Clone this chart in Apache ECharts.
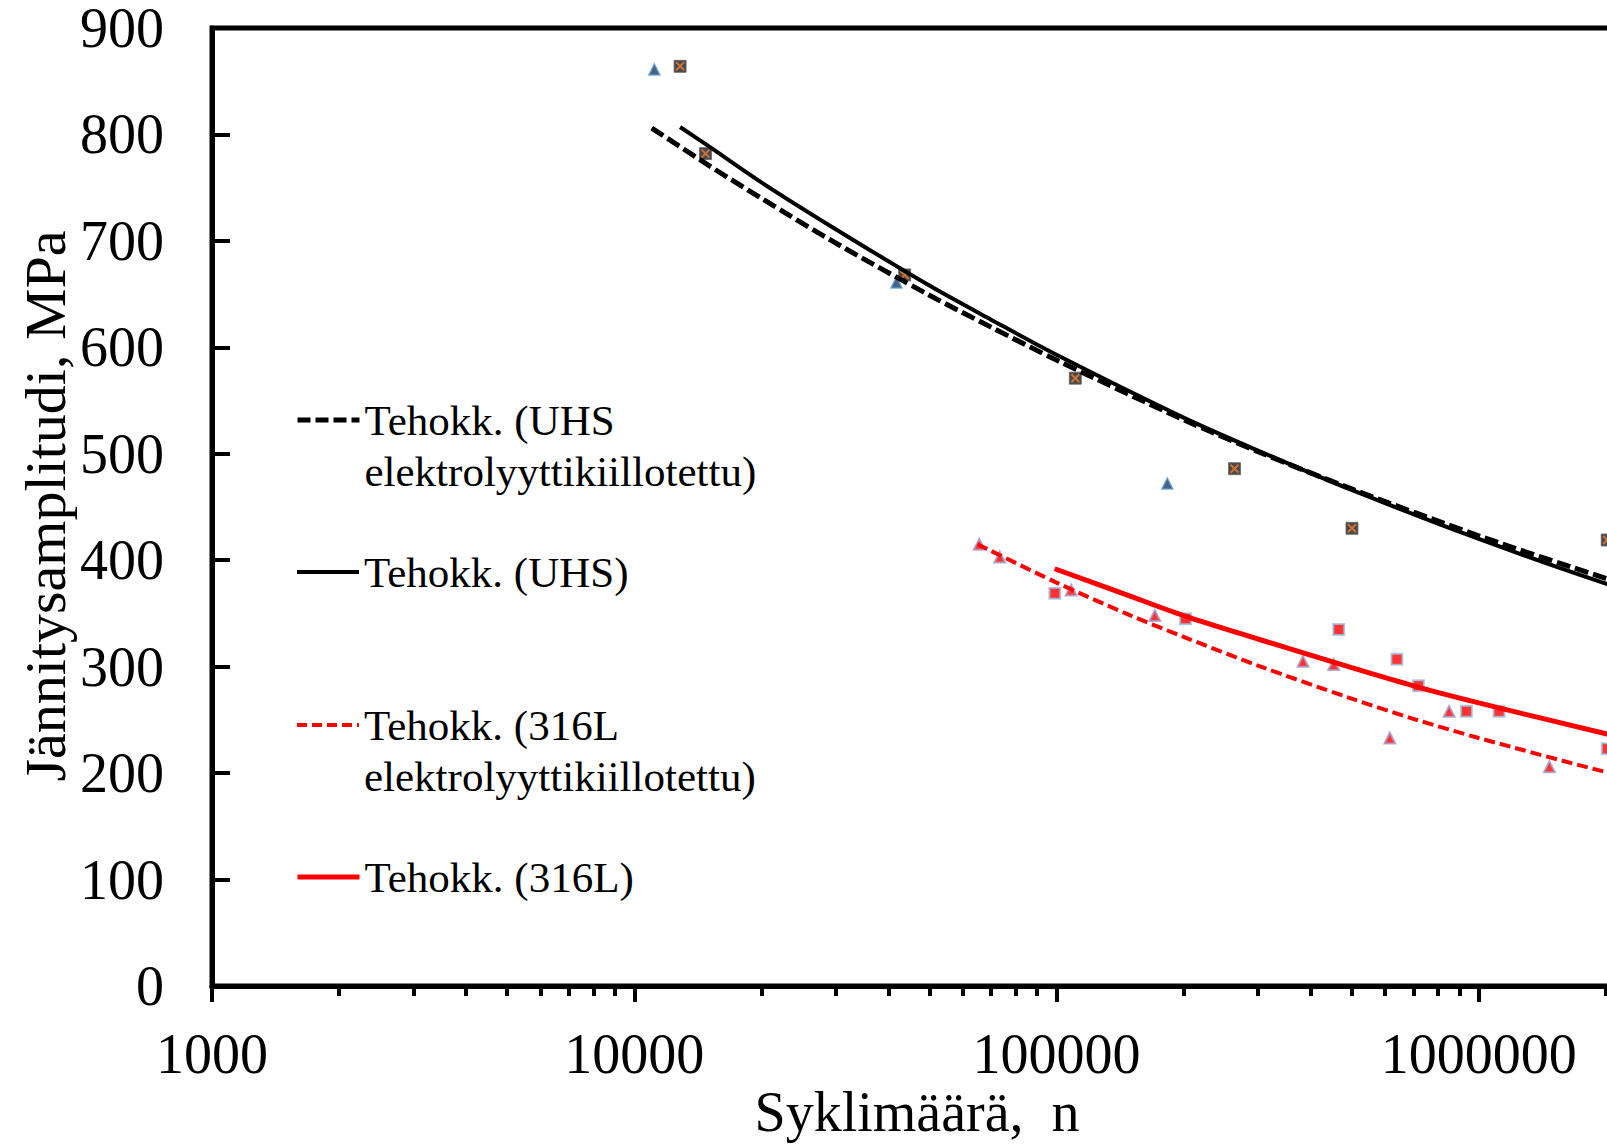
<!DOCTYPE html>
<html>
<head>
<meta charset="utf-8">
<script src="https://cdn.jsdelivr.net/npm/echarts@6/dist/echarts.min.js"></script>
<style>
html,body{margin:0;padding:0;background:#fff;}
#chart{width:1607px;height:1146px;}
</style>
</head>
<body>
<div id="chart"></div>
<script>
// ---------- data ----------
const yTicks = [0, 100, 200, 300, 400, 500, 600, 700, 800, 900];
const xMajorTicks = [1000, 10000, 100000, 1000000, 10000000];
const xTickLabels = ['1000', '10000', '100000', '1000000'];
const xMinorTicks = [2000,3000,4000,5000,6000,7000,8000,9000,
  20000,30000,40000,50000,60000,70000,80000,90000,
  200000,300000,400000,500000,600000,700000,800000,900000,
  2000000,3000000,4000000,5000000,6000000,7000000,8000000,9000000];

// measured points
const uhsEpCycles = [11160, 41780, 183000];
const uhsEpStress = [861, 661, 472];
const uhsCycles = [12840, 14750, 43690, 110800, 264000, 500900, 2015000];
const uhsStress = [864, 782, 668, 571, 486, 430, 419];
const l316EpCycles = [65610, 73380, 108300, 171000, 383500, 453300, 615800, 850600, 1470000];
const l316EpStress = [415, 403, 372, 348, 305, 302, 233, 258, 206];
const l316Cycles = [99100, 202100, 466000, 640000, 719700, 935000, 1117000, 2015000];
const l316Stress = [369, 345, 335, 307, 282, 258, 258, 223];

// trendlines, values
const uhsEpTrendCycles = [11000, 15000, 20000, 30000, 50000, 70000, 100000, 200000, 300000, 500000, 1000000, 2000000, 3000000];
const uhsEpTrendStress = [806, 771, 740, 698, 649, 619, 588, 532, 502, 467, 423, 383, 362];
const uhsTrendCycles = [12840, 15000, 20000, 30000, 50000, 70000, 100000, 200000, 300000, 500000, 1000000, 2000000, 3000000];
const uhsTrendStress = [807, 789, 755, 711, 658, 626, 593, 534, 503, 466, 420, 378, 356];
const l316EpTrendCycles = [65000, 100000, 150000, 200000, 300000, 500000, 700000, 1000000, 2000000, 3000000];
const l316EpTrendStress = [415, 379, 348, 328, 301, 270, 251, 233, 201, 185];
const l316TrendCycles = [99000, 150000, 200000, 300000, 500000, 700000, 1000000, 2000000, 3000000];
const l316TrendStress = [392, 366, 348, 326, 299, 282, 266, 237, 221];

const legendNames = [
  'Tehokk. (UHS\nelektrolyyttikiillotettu)',
  'Tehokk. (UHS)',
  'Tehokk. (316L\nelektrolyyttikiillotettu)',
  'Tehokk. (316L)'
];
const xTitle = 'Syklimäärä,  n';
const yTitle = 'Jännitysamplitudi, MPa';

// ---------- helpers ----------
function pairs(xs, ys){ return xs.map((x,i)=>[x, ys[i]]); }
const FONT = '"Liberation Serif", "Times New Roman", serif';

const chart = echarts.init(document.getElementById('chart'), null, {renderer: 'svg'});

const legendTops = [343.5, 546.5, 648.5, 851.5];
const legendLine = [
  {color: '#000', width: 5, type: [13, 5]},
  {color: '#000', width: 4, type: 'solid'},
  {color: '#FF0000', width: 4, type: [10, 5]},
  {color: '#FF0000', width: 5, type: 'solid'}
];
const legends = legendNames.map((n, i) => ({
  data: [n],
  left: 295,
  top: legendTops[i],
  padding: 0,
  itemWidth: 62,
  itemHeight: 14,
  selectedMode: false,
  itemStyle: {opacity: 0},
  lineStyle: legendLine[i],
  formatter: name => (name.indexOf('\n') >= 0 ? '\n' + name : name),
  textStyle: {fontFamily: FONT, fontSize: 43, color: '#000', lineHeight: 51}
}));

const option = {
  backgroundColor: '#fff',
  animation: false,
  grid: {
    left: 212, top: 28, bottom: 160, right: -294,
    outerBoundsMode: 'none', containLabel: false,
    show: true, borderColor: '#000', borderWidth: 5, backgroundColor: 'transparent'
  },
  legend: legends,
  xAxis: [{
    type: 'log', logBase: 10, min: xMajorTicks[0], max: xMajorTicks[xMajorTicks.length-1],
    axisLine: {show: true, lineStyle: {color: '#000', width: 5}},
    axisTick: {show: true, inside: false, length: 16, lineStyle: {color: '#000', width: 4}},
    axisLabel: {
      show: true, margin: 40, fontFamily: FONT, fontSize: 56, color: '#000',
      showMaxLabel: false,
      formatter: v => {
        const i = xMajorTicks.findIndex(t => Math.abs(t - v) / t < 1e-6);
        return i >= 0 && i < xTickLabels.length ? xTickLabels[i] : '';
      }
    },
    splitLine: {show: false}
  }, {
    type: 'log', logBase: 10, min: xMajorTicks[0], max: xMajorTicks[xMajorTicks.length-1],
    position: 'bottom', offset: 0,
    axisLine: {show: false},
    axisTick: {show: true, inside: false, length: 10, customValues: xMinorTicks, lineStyle: {color: '#000', width: 4}},
    axisLabel: {show: false},
    splitLine: {show: false}
  }],
  yAxis: {
    type: 'value', min: yTicks[0], max: yTicks[yTicks.length-1], interval: 100,
    axisLine: {show: true, lineStyle: {color: '#000', width: 5}},
    axisTick: {show: true, inside: true, length: 18, lineStyle: {color: '#000', width: 4}},
    axisLabel: {margin: 48, fontFamily: FONT, fontSize: 56, lineHeight: 40, color: '#000'},
    splitLine: {show: false}
  },
  graphic: [
    {type: 'text', x: 917, y: 1112, style: {text: xTitle, font: '56px ' + FONT, fill: '#000', align: 'center', verticalAlign: 'middle'}},
    {type: 'text', x: 45, y: 506, rotation: Math.PI/2, style: {text: yTitle, font: '58px ' + FONT, fill: '#000', align: 'center', verticalAlign: 'middle'}}
  ],
  series: [
    {name: 'UHS elektrolyyttikiillotettu', type: 'scatter', data: pairs(uhsEpCycles, uhsEpStress),
     symbol: 'triangle', symbolSize: 11,
     itemStyle: {color: '#1F3864', borderColor: '#5B9BD5', borderWidth: 1.5}},
    {name: 'UHS', type: 'scatter', data: pairs(uhsCycles, uhsStress),
     symbol: 'rect', symbolSize: 12,
     itemStyle: {color: '#1a1a1a', borderColor: '#666', borderWidth: 1}},
    {name: 'UHS x', type: 'scatter', data: pairs(uhsCycles, uhsStress),
     symbol: 'path://M0,0L10,10M0,10L10,0', symbolSize: 8,
     itemStyle: {color: 'rgba(0,0,0,0)', borderColor: '#ED7D31', borderWidth: 2}},
    {name: '316L elektrolyyttikiillotettu', type: 'scatter', data: pairs(l316EpCycles, l316EpStress),
     symbol: 'triangle', symbolSize: 11,
     itemStyle: {color: '#FF0000', borderColor: '#A59CC8', borderWidth: 2}},
    {name: '316L', type: 'scatter', data: pairs(l316Cycles, l316Stress),
     symbol: 'rect', symbolSize: 11,
     itemStyle: {color: '#FF0000', borderColor: '#9DC3E6', borderWidth: 2}},

    {name: legendNames[0], type: 'line', data: pairs(uhsEpTrendCycles, uhsEpTrendStress),
     smooth: 0.3, symbol: 'none', color: '#000',
     lineStyle: {color: '#000', width: 5, type: [14, 5]}},
    {name: legendNames[1], type: 'line', data: pairs(uhsTrendCycles, uhsTrendStress),
     smooth: 0.3, symbol: 'none', color: '#000',
     lineStyle: {color: '#000', width: 4}},
    {name: legendNames[2], type: 'line', data: pairs(l316EpTrendCycles, l316EpTrendStress),
     smooth: 0.3, symbol: 'none', color: '#FF0000',
     lineStyle: {color: '#FF0000', width: 4, type: [11, 5]}},
    {name: legendNames[3], type: 'line', data: pairs(l316TrendCycles, l316TrendStress),
     smooth: 0.3, symbol: 'none', color: '#FF0000',
     lineStyle: {color: '#FF0000', width: 5}}
  ]
};
chart.setOption(option);
</script>
</body>
</html>
